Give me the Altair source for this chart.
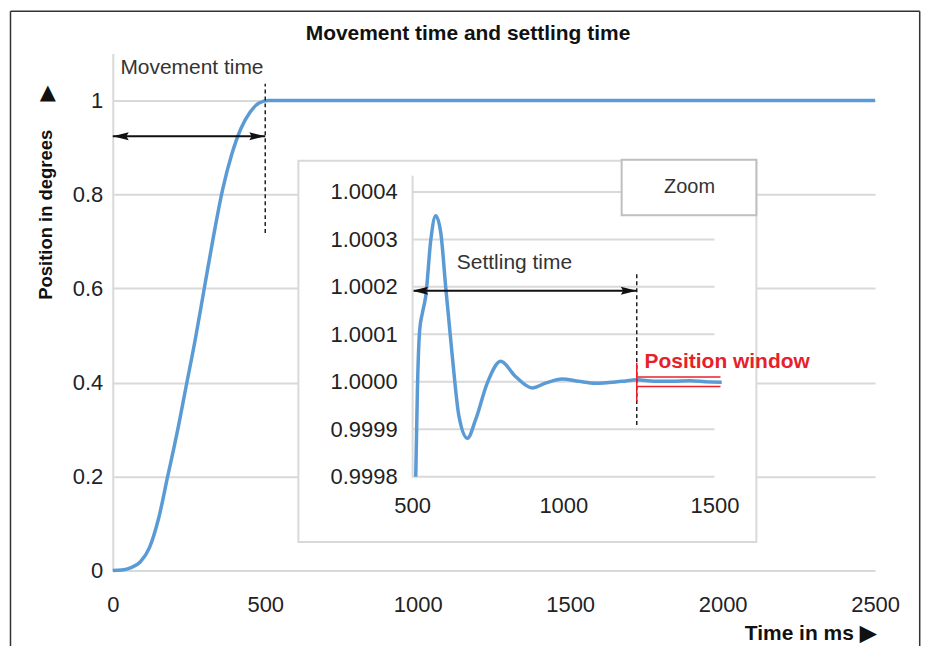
import altair as alt
import pandas as pd

# ---------------- data ----------------
main_time = [0, 30, 60, 90, 120, 150, 180, 210, 240, 270, 300, 330, 360, 390, 420, 450, 480, 510,
             1000, 1500, 2000, 2500]
main_pos = [0, 0.001, 0.006, 0.018, 0.048, 0.11, 0.2, 0.29, 0.39, 0.49, 0.6, 0.71, 0.81, 0.885, 0.94,
            0.975, 0.995, 1.0, 1.0, 1.0, 1.0, 1.0]

inset_time = [512, 517.5, 525, 534, 545, 562, 578, 595, 611, 633, 655, 683, 710, 748.5, 793, 842, 897, 941,
              996, 1051, 1106, 1194, 1244, 1300, 1359, 1420, 1470, 1524]
inset_pos = [0.99980, 0.999983, 1.000109, 1.000145, 1.00018, 1.0003, 1.00035, 1.000313, 1.0002, 1.000053,
             0.999927, 0.999881, 0.99992, 0.999997, 1.000043, 1.000011, 0.999987, 0.999997, 1.000006,
             1.000001, 0.999997, 1.000001, 1.000004, 1.000001, 1.000001, 1.000002, 1.0, 0.999999]

main_x_ticks = [0, 500, 1000, 1500, 2000, 2500]
main_y_ticks = [0, 0.2, 0.4, 0.6, 0.8, 1]
inset_x_ticks = [500, 1000, 1500]
inset_y_ticks = [0.9998, 0.9999, 1.0, 1.0001, 1.0002, 1.0003, 1.0004]

movement_end = 500
movement_arrow_pos = 0.924
movement_dash = [0.718, 1.036]

settling_start = 500
settling_end = 1243
settling_arrow_pos = 1.0001916
settling_dash = [0.999909, 1.000232]

window_hi = 1.00001
window_lo = 0.99999
window_end = 1520
window_bar = [0.999959, 1.00004]

# ---------------- style ----------------
FONT = "Liberation Sans"
BLUE = "#5b9bd5"
GRID = "#d9d9d9"
RED = "#e8202a"
INK = "#222222"
LABEL_SIZE = 22
ARROW_R = "M0,0 L-2,-0.5 L-1.7,0 L-2,0.5 Z"
ARROW_L = "M0,0 L2,-0.5 L1.7,0 L2,0.5 Z"

one = pd.DataFrame({"a": [0]})

# ---------------- main chart ----------------
mx = alt.Scale(domain=[0, 2500], nice=False, zero=False)
my = alt.Scale(domain=[0, 1.1], nice=False, zero=False)

main_df = pd.DataFrame({"t": main_time, "v": main_pos})

main_line = alt.Chart(main_df).mark_line(color=BLUE, strokeWidth=3.5, interpolate="monotone").encode(
    x=alt.X("t:Q", scale=mx, axis=alt.Axis(
        values=main_x_ticks, format="d", grid=False, domain=False, ticks=False, tickSize=0,
        labelFont=FONT, labelFontSize=LABEL_SIZE, labelColor=INK, labelPadding=24, labelFlush=False,
        labelOverlap=False,
        title="Time in ms ▶", titleFont=FONT, titleFontSize=21, titleFontWeight="bold",
        titleColor="#111111", titleX=764, titleY=63, titleAlign="right", titleBaseline="middle")),
    y=alt.Y("v:Q", scale=my, axis=alt.Axis(
        values=main_y_ticks, format="~g", grid=True, gridColor=GRID, gridWidth=2,
        domain=True, domainColor=GRID, domainWidth=2, ticks=False, tickSize=0,
        labelFont=FONT, labelFontSize=LABEL_SIZE, labelColor=INK, labelPadding=10, labelFlush=False,
        labelOverlap=False,
        title="Position in degrees", titleFont=FONT, titleFontSize=18.5, titleFontWeight="bold",
        titleColor="#111111", titleX=-67, titleY=161, titleAngle=-90, titleAlign="center",
        titleBaseline="middle")),
)

mv_df = pd.DataFrame({"t": [0], "t2": [movement_end], "v": [movement_arrow_pos]})
mv_rule = alt.Chart(mv_df).mark_rule(color="#111111", strokeWidth=2).encode(
    x="t:Q", x2="t2:Q", y="v:Q")
mv_left = alt.Chart(mv_df).mark_point(shape=ARROW_L, size=256, filled=True, color="#111111",
                                      opacity=1, strokeWidth=0).encode(x="t:Q", y="v:Q")
mv_right = alt.Chart(mv_df).mark_point(shape=ARROW_R, size=256, filled=True, color="#111111",
                                       opacity=1, strokeWidth=0).encode(
    x=alt.X("t2:Q"), y="v:Q")

mv_dash_df = pd.DataFrame({"t": [movement_end], "v": [movement_dash[0]], "v2": [movement_dash[1]]})
mv_dash = alt.Chart(mv_dash_df).mark_rule(color=INK, strokeWidth=1.5, strokeDash=[4, 3]).encode(
    x="t:Q", y="v:Q", y2="v2:Q")

mv_text = alt.Chart(one).mark_text(align="left", baseline="middle", font=FONT, fontSize=21,
                                   color="#333333").encode(
    x=alt.datum(25), y=alt.datum(1.07), text=alt.value("Movement time"))

up_arrow = alt.Chart(one).mark_text(align="center", baseline="middle", font="DejaVu Sans",
                                    fontSize=21, color="#111111").encode(
    x=alt.value(-65), y=alt.value(40), text=alt.value("▲"))

title_text = alt.Chart(one).mark_text(align="center", baseline="middle", font=FONT, fontSize=21,
                                      fontWeight="bold", color="#111111").encode(
    x=alt.value(356), y=alt.value(-20), text=alt.value("Movement time and settling time"))

border_l = alt.Chart(one).mark_rule(color="#333333", strokeWidth=1.5).encode(
    x=alt.value(-102.5), y=alt.value(-42.5), y2=alt.value(660))
border_t = alt.Chart(one).mark_rule(color="#333333", strokeWidth=1.5).encode(
    x=alt.value(-102.5), x2=alt.value(808.7), y=alt.value(-42.5))
border_r = alt.Chart(one).mark_rule(color="#333333", strokeWidth=1.5).encode(
    x=alt.value(808.7), y=alt.value(-42.5), y2=alt.value(660))

main_group = alt.layer(main_line, mv_rule, mv_left, mv_right, mv_dash, mv_text, up_arrow,
                       title_text, border_l, border_t, border_r)

# ---------------- inset (zoom) ----------------
ix = alt.Scale(domain=[500, 1500], range=[300, 603], nice=False, zero=False)
iy = alt.Scale(domain=[0.9998, 1.000435], range=[424, 122], nice=False, zero=False)

frame = alt.Chart(one).mark_rect(fill="white", stroke=GRID, strokeWidth=2).encode(
    x=alt.value(186), x2=alt.value(645), y=alt.value(107.5), y2=alt.value(489.5))

grid_df = pd.DataFrame({"v": inset_y_ticks, "t": [500] * len(inset_y_ticks),
                        "t2": [1500] * len(inset_y_ticks)})
inset_grid = alt.Chart(grid_df).mark_rule(color=GRID, strokeWidth=2).encode(
    x=alt.X("t:Q", scale=ix), x2="t2:Q", y=alt.Y("v:Q", scale=iy))

inset_df = pd.DataFrame({"t": inset_time, "v": inset_pos})
inset_line = alt.Chart(inset_df).mark_line(color=BLUE, strokeWidth=3.5, interpolate="monotone").encode(
    x=alt.X("t:Q", scale=ix, axis=alt.Axis(
        orient="bottom", offset=-94, values=inset_x_ticks, format="d", grid=False, domain=False,
        ticks=False, tickSize=0, labelFont=FONT, labelFontSize=LABEL_SIZE, labelColor=INK,
        labelPadding=19, labelFlush=False, labelOverlap=False, title="", zindex=1)),
    y=alt.Y("v:Q", scale=iy, axis=alt.Axis(
        orient="left", offset=-300, values=inset_y_ticks, format=".4f", grid=False, domain=True,
        domainColor=GRID, domainWidth=2, ticks=False, tickSize=0, labelFont=FONT,
        labelFontSize=LABEL_SIZE, labelColor=INK, labelPadding=15, labelFlush=False,
        labelOverlap=False, title="", zindex=1)),
)

st_df = pd.DataFrame({"t": [settling_start], "t2": [settling_end], "v": [settling_arrow_pos]})
st_rule = alt.Chart(st_df).mark_rule(color="#111111", strokeWidth=2).encode(
    x="t:Q", x2="t2:Q", y="v:Q")
st_left = alt.Chart(st_df).mark_point(shape=ARROW_L, size=256, filled=True, color="#111111",
                                      opacity=1, strokeWidth=0).encode(x="t:Q", y="v:Q")
st_right = alt.Chart(st_df).mark_point(shape=ARROW_R, size=256, filled=True, color="#111111",
                                       opacity=1, strokeWidth=0).encode(x="t2:Q", y="v:Q")

st_dash_df = pd.DataFrame({"t": [settling_end], "v": [settling_dash[0]], "v2": [settling_dash[1]]})
st_dash = alt.Chart(st_dash_df).mark_rule(color=INK, strokeWidth=1.5, strokeDash=[4, 3]).encode(
    x="t:Q", y="v:Q", y2="v2:Q")

win_df = pd.DataFrame({"t": [settling_end, settling_end], "t2": [window_end, window_end],
                       "v": [window_hi, window_lo]})
win_lines = alt.Chart(win_df).mark_rule(color=RED, strokeWidth=1.5).encode(
    x="t:Q", x2="t2:Q", y="v:Q")
win_bar_df = pd.DataFrame({"t": [settling_end], "v": [window_bar[0]], "v2": [window_bar[1]]})
win_bar = alt.Chart(win_bar_df).mark_rule(color=RED, strokeWidth=1.5).encode(
    x="t:Q", y="v:Q", y2="v2:Q")

win_text = alt.Chart(one).mark_text(align="left", baseline="middle", font=FONT, fontSize=21,
                                    fontWeight="bold", color=RED).encode(
    x=alt.datum(1269), y=alt.datum(1.0000421), text=alt.value("Position window"))

st_text = alt.Chart(one).mark_text(align="left", baseline="middle", font=FONT, fontSize=21,
                                   color="#333333").encode(
    x=alt.datum(648), y=alt.datum(1.00025), text=alt.value("Settling time"))

zoom_box = alt.Chart(one).mark_rect(fill="white", stroke="#bfbfbf", strokeWidth=2).encode(
    x=alt.value(510), x2=alt.value(645), y=alt.value(106.5), y2=alt.value(162))
zoom_text = alt.Chart(one).mark_text(align="center", baseline="middle", font=FONT, fontSize=20,
                                     color="#333333").encode(
    x=alt.value(578), y=alt.value(134), text=alt.value("Zoom"))

inset_group = alt.layer(frame, inset_grid, inset_line, st_rule, st_left, st_right, st_dash,
                        win_lines, win_bar, win_text, st_text, zoom_box, zoom_text)

chart = alt.layer(main_group, inset_group).resolve_scale(
    x="independent", y="independent"
).properties(
    width=764, height=518,
    autosize=alt.AutoSizeParams(type="none"),
    padding={"left": 105, "top": 45, "right": 50, "bottom": 76},
    background="white",
).configure_view(stroke="transparent")

chart.save("out.html", embed_options={"renderer": "svg", "actions": False})
